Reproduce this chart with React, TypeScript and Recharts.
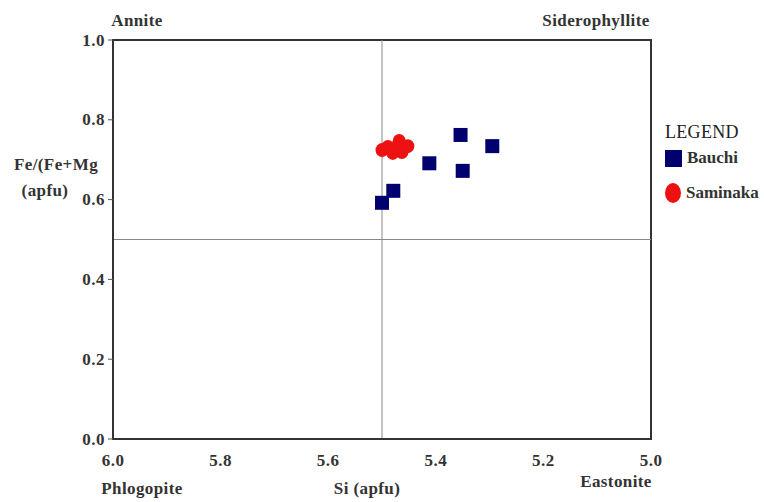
import React from "react";
import {
  ScatterChart,
  Scatter,
  XAxis,
  YAxis,
  ReferenceLine,
  ReferenceArea,
} from "recharts";

const bauchiSi = [5.354, 5.295, 5.412, 5.35, 5.479, 5.5];
const bauchiFe = [0.762, 0.734, 0.691, 0.672, 0.622, 0.592];
const saminakaSi = [5.5, 5.489, 5.48, 5.47, 5.463, 5.452, 5.468];
const saminakaFe = [0.724, 0.732, 0.717, 0.737, 0.719, 0.734, 0.747];
const xTicks = [6.0, 5.8, 5.6, 5.4, 5.2, 5.0];
const yTicks = [0.0, 0.2, 0.4, 0.6, 0.8, 1.0];
const seriesNames = ["Bauchi", "Saminaka"];

const bauchi = bauchiSi.map((x, i) => ({ x, y: bauchiFe[i] }));
const saminaka = saminakaSi.map((x, i) => ({ x, y: saminakaFe[i] }));

const FONT = "'Liberation Serif', 'Times New Roman', serif";
const NAVY = "#00006e";
const RED = "#ee1111";

const SquareShape = (p: any) => (
  <rect x={p.cx - 7} y={p.cy - 7} width={14} height={14} fill={NAVY} />
);
const CircleShape = (p: any) => (
  <ellipse cx={p.cx} cy={p.cy} rx={6.5} ry={7} fill={RED} />
);

const XTick = (p: any) => (
  <text
    x={p.x}
    y={p.y + 13}
    textAnchor="middle"
    dominantBaseline="central"
    fontFamily={FONT}
    fontWeight="bold"
    fontSize={17}
    letterSpacing={0.5}
    fill="#333"
  >
    {Number(p.payload.value).toFixed(1)}
  </text>
);

const YTick = (p: any) => (
  <text
    x={p.x - 1}
    y={p.y}
    textAnchor="end"
    dominantBaseline="central"
    fontFamily={FONT}
    fontWeight="bold"
    fontSize={17}
    letterSpacing={0.5}
    fill="#333"
  >
    {Number(p.payload.value).toFixed(1)}
  </text>
);

const labelStyle: React.CSSProperties = {
  position: "absolute",
  fontFamily: FONT,
  fontWeight: "bold",
  fontSize: 17,
  letterSpacing: 0.4,
  color: "#333",
  whiteSpace: "nowrap",
  transform: "translate(-50%, -50%)",
  lineHeight: 1,
};

export default function App() {
  return (
    <div style={{ position: "absolute", left: 0, top: 0, width: 764, height: 502, background: "#fff" }}>
      <ScatterChart
        width={764}
        height={502}
        margin={{ top: 40, right: 113, bottom: 33, left: 53 }}
      >
        <XAxis
          type="number"
          dataKey="x"
          domain={[5.0, 6.0]}
          reversed
          ticks={xTicks}
          tick={<XTick />}
          tickLine={false}
          height={30}
          axisLine={{ stroke: "#333", strokeWidth: 2 }}
        />
        <YAxis
          type="number"
          dataKey="y"
          domain={[0, 1]}
          ticks={yTicks}
          tick={<YTick />}
          tickSize={5}
          tickLine={{ stroke: "#555" }}
          width={60}
          axisLine={{ stroke: "#333", strokeWidth: 2 }}
        />
        <ReferenceArea x1={5.0} x2={6.0} y1={0} y2={1} fill="none" stroke="#333" strokeWidth={2} />
        <ReferenceLine x={5.5} stroke="#888" strokeWidth={1} />
        <ReferenceLine y={0.5} stroke="#888" strokeWidth={1} />
        <Scatter name={seriesNames[0]} data={bauchi} shape={<SquareShape />} isAnimationActive={false} />
        <Scatter name={seriesNames[1]} data={saminaka} shape={<CircleShape />} isAnimationActive={false} />
      </ScatterChart>
      <div style={{ position: "absolute", left: 665, top: 121, fontFamily: FONT, color: "#222" }}>
        <div style={{ fontSize: 18, lineHeight: "22px", letterSpacing: 0.3 }}>LEGEND</div>
        <div style={{ display: "flex", alignItems: "center", marginTop: 5 }}>
          <span style={{ width: 17, height: 17, background: NAVY, display: "inline-block", marginRight: 5 }} />
          <span style={{ fontSize: 17, fontWeight: "bold", color: "#333" }}>{seriesNames[0]}</span>
        </div>
        <div style={{ display: "flex", alignItems: "center", marginTop: 15 }}>
          <span style={{ width: 16, height: 20, borderRadius: "50%", background: RED, display: "inline-block", marginRight: 5 }} />
          <span style={{ fontSize: 17, fontWeight: "bold", color: "#333" }}>{seriesNames[1]}</span>
        </div>
      </div>
      <span style={{ ...labelStyle, left: 137, top: 20 }}>Annite</span>
      <span style={{ ...labelStyle, left: 596, top: 20 }}>Siderophyllite</span>
      <span style={{ ...labelStyle, left: 56, top: 164 }}>Fe/(Fe+Mg</span>
      <span style={{ ...labelStyle, left: 45, top: 190 }}>(apfu)</span>
      <span style={{ ...labelStyle, left: 142, top: 488 }}>Phlogopite</span>
      <span style={{ ...labelStyle, left: 367, top: 488 }}>Si (apfu)</span>
      <span style={{ ...labelStyle, left: 616, top: 481 }}>Eastonite</span>
    </div>
  );
}
